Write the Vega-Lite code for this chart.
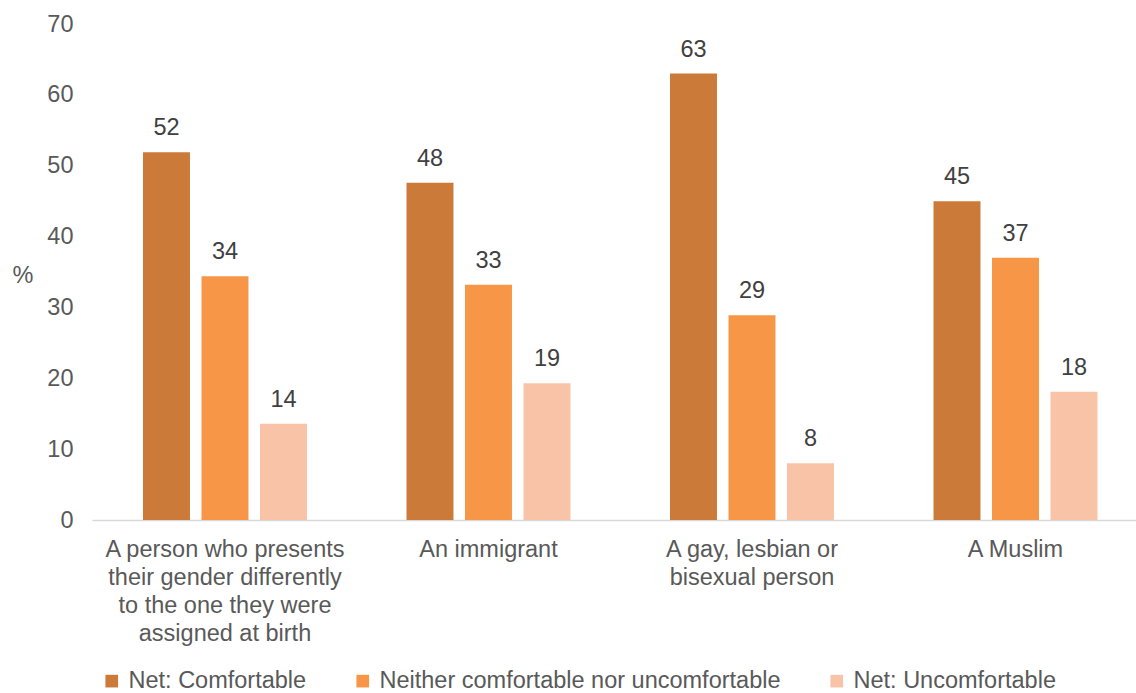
{
  "$schema": "https://vega.github.io/schema/vega-lite/v6.json",
  "width": 1044,
  "height": 496,
  "autosize": {"type": "none"},
  "padding": {"left": 92, "top": 24, "right": 0, "bottom": 173},
  "config": {
    "view": {"stroke": null},
    "font": "Liberation Sans",
    "legend": {"padding": 0}
  },
  "data": {
    "values": [
      {"group": "A person who presents|their gender differently|to the one they were|assigned at birth", "series": "Net: Comfortable", "order": 1, "value": 51.9},
      {"group": "A person who presents|their gender differently|to the one they were|assigned at birth", "series": "Neither comfortable nor uncomfortable", "order": 2, "value": 34.4},
      {"group": "A person who presents|their gender differently|to the one they were|assigned at birth", "series": "Net: Uncomfortable", "order": 3, "value": 13.6},
      {"group": "An immigrant", "series": "Net: Comfortable", "order": 1, "value": 47.6},
      {"group": "An immigrant", "series": "Neither comfortable nor uncomfortable", "order": 2, "value": 33.2},
      {"group": "An immigrant", "series": "Net: Uncomfortable", "order": 3, "value": 19.3},
      {"group": "A gay, lesbian or|bisexual person", "series": "Net: Comfortable", "order": 1, "value": 63.0},
      {"group": "A gay, lesbian or|bisexual person", "series": "Neither comfortable nor uncomfortable", "order": 2, "value": 28.9},
      {"group": "A gay, lesbian or|bisexual person", "series": "Net: Uncomfortable", "order": 3, "value": 8.0},
      {"group": "A Muslim", "series": "Net: Comfortable", "order": 1, "value": 45.0},
      {"group": "A Muslim", "series": "Neither comfortable nor uncomfortable", "order": 2, "value": 37.0},
      {"group": "A Muslim", "series": "Net: Uncomfortable", "order": 3, "value": 18.1}
    ]
  },
  "encoding": {
    "x": {
      "field": "group",
      "type": "nominal",
      "sort": null,
      "scale": {"paddingInner": 0.334, "paddingOuter": 0.148, "align": 0.58},
      "axis": {
        "title": null,
        "labelAngle": 0,
        "labelExpr": "split(datum.label, '|')",
        "labelFontSize": 23.5,
        "labelColor": "#595959",
        "labelLineHeight": 28,
        "labelPadding": 17,
        "labelBaseline": "top",
        "ticks": false,
        "domainColor": "#D9D9D9",
        "domainWidth": 1.3,
        "labelLimit": 400
      }
    },
    "xOffset": {
      "field": "order",
      "type": "ordinal",
      "scale": {"paddingInner": 0.197, "paddingOuter": 0.0985}
    },
    "y": {
      "field": "value",
      "type": "quantitative",
      "scale": {"domain": [0, 70], "nice": false},
      "axis": {
        "values": [0, 10, 20, 30, 40, 50, 60, 70],
        "grid": false,
        "domain": false,
        "ticks": false,
        "labelFontSize": 23.5,
        "labelColor": "#595959",
        "labelPadding": 19,
        "title": "%",
        "titleAngle": 0,
        "titleFontSize": 23.5,
        "titleFontWeight": "normal",
        "titleColor": "#595959",
        "titleAlign": "left",
        "titleBaseline": "middle",
        "titleX": -80,
        "titleY": 251
      }
    }
  },
  "layer": [
    {
      "mark": {"type": "bar"},
      "encoding": {
        "color": {
          "field": "series",
          "type": "nominal",
          "sort": ["Net: Comfortable", "Neither comfortable nor uncomfortable", "Net: Uncomfortable"],
          "scale": {
            "domain": ["Net: Comfortable", "Neither comfortable nor uncomfortable", "Net: Uncomfortable"],
            "range": ["#CC7A3A", "#F79646", "#F9C3A8"]
          },
          "legend": {
            "title": null,
            "orient": "none",
            "direction": "horizontal",
            "legendX": 8,
            "legendY": 645,
            "symbolType": "square",
            "symbolSize": 160,
            "symbolStrokeWidth": 0,
            "symbolOpacity": 1,
            "labelFontSize": 23.5,
            "labelColor": "#595959",
            "labelOffset": 5,
            "columnPadding": 44,
            "labelLimit": 600
          }
        }
      }
    },
    {
      "mark": {"type": "text", "baseline": "bottom", "dy": -12, "fontSize": 23.5, "color": "#404040"},
      "encoding": {
        "text": {"field": "value", "type": "quantitative", "format": ".0f"}
      }
    }
  ]
}
